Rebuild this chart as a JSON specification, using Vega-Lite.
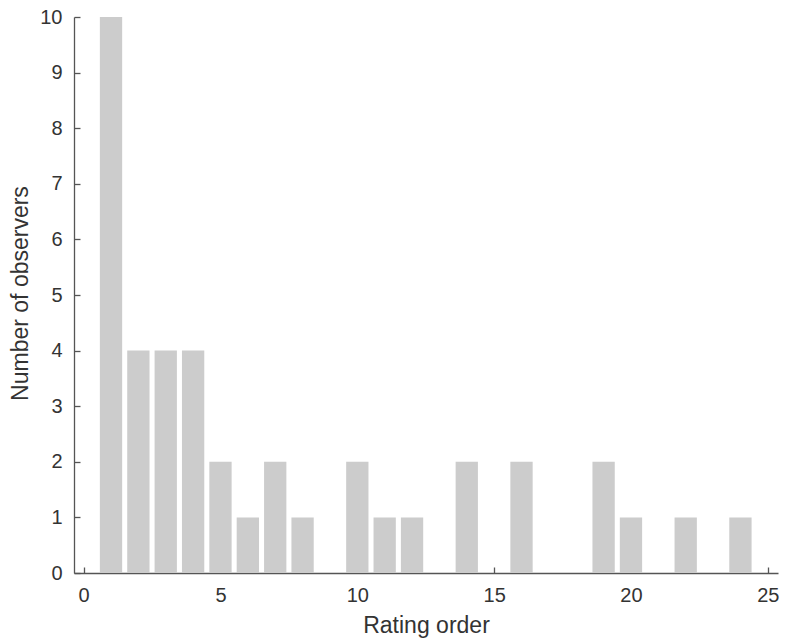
{
  "$schema": "https://vega.github.io/schema/vega-lite/v6.json",
  "width": 704,
  "height": 556,
  "autosize": {"type": "none"},
  "padding": {"left": 74, "top": 17, "right": 12, "bottom": 68},
  "background": "white",
  "config": {
    "view": {"stroke": null},
    "font": "Liberation Sans"
  },
  "data": {
    "values": [
      {"order": 1, "count": 10},
      {"order": 2, "count": 4},
      {"order": 3, "count": 4},
      {"order": 4, "count": 4},
      {"order": 5, "count": 2},
      {"order": 6, "count": 1},
      {"order": 7, "count": 2},
      {"order": 8, "count": 1},
      {"order": 10, "count": 2},
      {"order": 11, "count": 1},
      {"order": 12, "count": 1},
      {"order": 14, "count": 2},
      {"order": 16, "count": 2},
      {"order": 19, "count": 2},
      {"order": 20, "count": 1},
      {"order": 22, "count": 1},
      {"order": 24, "count": 1}
    ]
  },
  "mark": {"type": "bar", "color": "#cccccc", "width": 22.3},
  "encoding": {
    "x": {
      "field": "order",
      "type": "quantitative",
      "scale": {"domain": [-0.17, 25.19], "nice": false, "zero": false},
      "axis": {
        "title": "Rating order",
        "values": [0, 5, 10, 15, 20, 25],
        "grid": false,
        "domainColor": "#555555",
        "domainWidth": 1.3,
        "tickColor": "#555555",
        "tickWidth": 1.3,
        "tickSize": -6,
        "labelFontSize": 20,
        "labelColor": "#333333",
        "labelPadding": 18,
        "titleFontSize": 23,
        "titleFontWeight": "normal",
        "titleColor": "#333333",
        "titleBaseline": "alphabetic",
        "titleY": 59
      }
    },
    "y": {
      "field": "count",
      "type": "quantitative",
      "scale": {"domain": [0, 10], "nice": false},
      "axis": {
        "title": "Number of observers",
        "values": [0, 1, 2, 3, 4, 5, 6, 7, 8, 9, 10],
        "grid": false,
        "domainColor": "#555555",
        "domainWidth": 1.3,
        "tickColor": "#555555",
        "tickWidth": 1.3,
        "tickSize": -6,
        "labelFontSize": 20,
        "labelColor": "#333333",
        "labelPadding": 18,
        "titleFontSize": 23,
        "titleFontWeight": "normal",
        "titleColor": "#333333",
        "titleBaseline": "alphabetic",
        "titleAngle": -90,
        "titleX": -47,
        "titleY": 276
      }
    }
  }
}
